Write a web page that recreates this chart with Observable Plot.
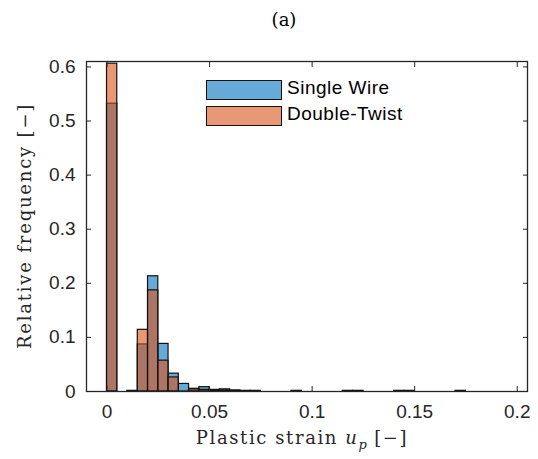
<!DOCTYPE html>
<html>
<head>
<meta charset="utf-8">
<script src="https://cdn.jsdelivr.net/npm/d3@7"></script>
<script src="https://cdn.jsdelivr.net/npm/@observablehq/plot@0.6"></script>
<style>
  body { margin: 0; background: #fff; }
  #wrap { position: relative; width: 538px; height: 459px; overflow: hidden; }
  #title { height: 40px; font-family: "DejaVu Serif", serif; font-size: 18px; color: #000; position: relative; }
  #title span { position: absolute; left: 284px; top: 9px; transform: translateX(-50%); }
  .ylab { position: absolute; left: 24px; top: 226px; transform: translate(-50%, -50%) rotate(-90deg); white-space: nowrap;
          font-family: "DejaVu Serif", serif; font-size: 18px; letter-spacing: 1.8px; color: #262626; }
  .xlab { position: absolute; left: 302px; top: 427px; transform: translateX(-50%); white-space: nowrap;
          font-family: "DejaVu Serif", serif; font-size: 18px; letter-spacing: 1.6px; color: #262626; }
  .xlab sub { font-size: 13px; letter-spacing: 0; }
  .leg { position: absolute; font-family: "Liberation Sans", Arial, sans-serif; font-size: 19px; letter-spacing: 0.5px; color: #000; }
  .sw { position: absolute; width: 74px; height: 18px; border: 1px solid #111; box-sizing: content-box; }
</style>
</head>
<body>
<div id="wrap">
  <div id="title"><span>(a)</span></div>
  <div id="chart"></div>
  <div class="ylab">Relative frequency [−]</div>
  <div class="xlab">Plastic strain <i>u<sub>p</sub></i> [−]</div>
</div>
<script>
// Histogram bins (left edges), width 0.005
const binWidth = 0.005;
const binStart = [0, 0.01, 0.015, 0.02, 0.025, 0.03, 0.035, 0.04, 0.045, 0.05, 0.055, 0.06, 0.065, 0.07, 0.09, 0.115, 0.12, 0.14, 0.145, 0.17];
const singleWire = [0.532, 0.001, 0.087, 0.213, 0.088, 0.033, 0.014, 0.005, 0.008, 0.003, 0.004, 0.002, 0.001, 0.001, 0.001, 0.001, 0.001, 0.001, 0.001, 0.001];
const doubleTwist = [0.606, 0.001, 0.114, 0.187, 0.057, 0.026, 0.0, 0.004, 0.003, 0.002, 0.002, 0.001, 0.001, 0.001, 0.001, 0.001, 0.001, 0.001, 0.001, 0.001];
const seriesNames = ["Single Wire", "Double-Twist"];
const seriesColors = ["#0072BD", "#D95319"];
const xTicks = [0, 0.05, 0.1, 0.15, 0.2];
const yTicks = [0, 0.1, 0.2, 0.3, 0.4, 0.5, 0.6];

const rows = (vals) => binStart.map((s, i) => ({x1: s, x2: s + binWidth, y: vals[i]}));
const dataSW = rows(singleWire);
const dataDT = rows(doubleTwist);

const axisFont = {fontFamily: "Liberation Sans, Arial, sans-serif", fontSize: 19};
const tickFmt = d => d === 0 ? "0" : String(+d.toFixed(3));

const chart = Plot.plot({
  width: 538,
  height: 419,
  marginLeft: 86,
  marginRight: 11,
  marginTop: 21,
  marginBottom: 68,
  style: {background: "#fff", color: "#262626"},
  x: {domain: [-0.01, 0.205]},
  y: {domain: [0, 0.61]},
  marks: [
    Plot.rectY(dataSW, {x1: "x1", x2: "x2", y: "y", fill: seriesColors[0], fillOpacity: 0.6, stroke: "#111", strokeWidth: 1.2, inset: 0}),
    Plot.rectY(dataDT, {x1: "x1", x2: "x2", y: "y", fill: seriesColors[1], fillOpacity: 0.6, stroke: "#111", strokeWidth: 1.2, inset: 0}),
    Plot.frame({stroke: "#262626", strokeWidth: 1.3}),
    Plot.axisX({ticks: xTicks, anchor: "bottom", tickSize: -5, tickPadding: 18, tickFormat: tickFmt, label: null, ...axisFont}),
    Plot.axisX({ticks: xTicks, anchor: "top", tickSize: -5, tickFormat: () => "", label: null}),
    Plot.axisY({ticks: yTicks, anchor: "left", tickSize: -5, tickPadding: 16, tickFormat: tickFmt, label: null, ...axisFont}),
    Plot.axisY({ticks: yTicks, anchor: "right", tickSize: -5, tickFormat: () => "", label: null})
  ]
});
document.getElementById("chart").appendChild(chart);

// Legend
const wrap = document.getElementById("wrap");
seriesNames.forEach((name, i) => {
  const top = 80 + i * 26;
  const sw = document.createElement("div");
  sw.className = "sw";
  sw.style.left = "206px";
  sw.style.top = top + "px";
  const c = d3.color(seriesColors[i]); c.opacity = 0.6;
  sw.style.background = c.formatRgb();
  wrap.appendChild(sw);
  const t = document.createElement("div");
  t.className = "leg";
  t.style.left = "287px";
  t.style.top = (top - 3) + "px";
  t.textContent = name;
  wrap.appendChild(t);
});
</script>
</body>
</html>
